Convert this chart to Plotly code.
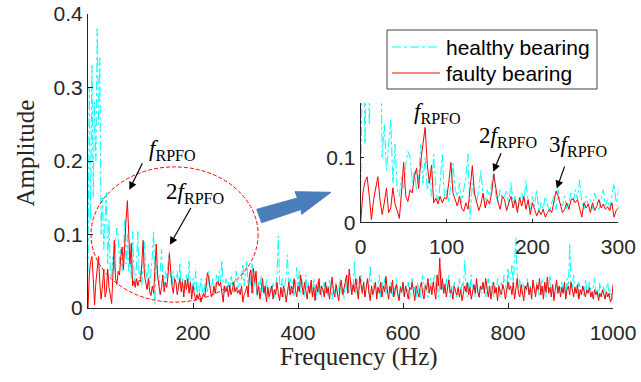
import numpy as np
import plotly.graph_objects as go

# ---------------- data ----------------
f_step = 2.5
freq = np.arange(0, 1000 + f_step / 2, f_step)

healthy = [
    # 0 - 47.5 Hz
    0.050, 0.300, 0.120, 0.330, 0.150, 0.280, 0.200, 0.380, 0.250, 0.340,
    0.100, 0.150, 0.080, 0.120, 0.157, 0.060, 0.120, 0.050, 0.040, 0.070,
    # 50 - 97.5
    0.050, 0.090, 0.109, 0.100, 0.060, 0.080, 0.050, 0.070, 0.120, 0.060,
    0.100, 0.050, 0.070, 0.040, 0.104, 0.050, 0.030, 0.060, 0.104, 0.040,
    # 100 - 147.5
    0.050, 0.030, 0.060, 0.090, 0.050, 0.040, 0.060, 0.030, 0.050, 0.070,
    0.105, 0.005, 0.060, 0.040, 0.030, 0.050, 0.080, 0.040, 0.030, 0.050,
    # 150 - 197.5
    0.040, 0.060, 0.077, 0.040, 0.030, 0.050, 0.035, 0.040, 0.050, 0.025,
    0.062, 0.030, 0.040, 0.020, 0.035, 0.045, 0.030, 0.064, 0.030, 0.020,
    # 200 - 247.5
    0.040, 0.025, 0.050, 0.015, 0.030, 0.020, 0.040, 0.025, 0.015, 0.030,
    0.040, 0.020, 0.050, 0.030, 0.025, 0.040, 0.020, 0.030, 0.045, 0.030,
    # 250 - 300
    0.050, 0.035, 0.065, 0.030, 0.020, 0.040, 0.025, 0.035, 0.020, 0.045,
    0.030, 0.020, 0.035, 0.050, 0.025, 0.035, 0.020, 0.040, 0.060, 0.030,
    0.045,
    # 302.5 - 350
    0.065, 0.025, 0.045, 0.030, 0.062, 0.020, 0.040, 0.030, 0.015, 0.035,
    0.025, 0.045, 0.020, 0.030, 0.015, 0.040, 0.025, 0.012, 0.030, 0.020,
    # 352.5 - 400
    0.035, 0.015, 0.030, 0.045, 0.098, 0.035, 0.025, 0.040, 0.015, 0.030,
    0.045, 0.072, 0.025, 0.040, 0.020, 0.035, 0.015, 0.030, 0.055, 0.025,
    # 402.5 - 450
    0.050, 0.020, 0.040, 0.030, 0.015, 0.045, 0.025, 0.035, 0.020, 0.030,
    0.015, 0.040, 0.025, 0.012, 0.035, 0.020, 0.030, 0.015, 0.025, 0.035,
    # 452.5 - 500
    0.020, 0.030, 0.015, 0.040, 0.025, 0.012, 0.030, 0.020, 0.035, 0.015,
    0.025, 0.040, 0.020, 0.030, 0.012, 0.035, 0.025, 0.045, 0.020, 0.030,
    # 502.5 - 550
    0.035, 0.025, 0.065, 0.020, 0.040, 0.015, 0.030, 0.045, 0.025, 0.035,
    0.015, 0.025, 0.040, 0.020, 0.058, 0.030, 0.015, 0.035, 0.025, 0.020,
    # 552.5 - 600
    0.030, 0.045, 0.015, 0.035, 0.025, 0.040, 0.020, 0.030, 0.012, 0.025,
    0.035, 0.015, 0.030, 0.020, 0.040, 0.025, 0.012, 0.030, 0.020, 0.035,
    # 602.5 - 650
    0.015, 0.030, 0.020, 0.035, 0.012, 0.025, 0.040, 0.020, 0.030, 0.015,
    0.035, 0.025, 0.012, 0.030, 0.045, 0.020, 0.035, 0.025, 0.015, 0.030,
    # 652.5 - 700
    0.040, 0.020, 0.030, 0.045, 0.025, 0.035, 0.015, 0.030, 0.050, 0.025,
    0.035, 0.020, 0.040, 0.025, 0.045, 0.015, 0.030, 0.020, 0.035, 0.025,
    # 702.5 - 750
    0.015, 0.030, 0.040, 0.020, 0.035, 0.025, 0.065, 0.030, 0.015, 0.035,
    0.025, 0.045, 0.020, 0.030, 0.015, 0.035, 0.025, 0.012, 0.030, 0.020,
    # 752.5 - 800
    0.035, 0.025, 0.015, 0.030, 0.040, 0.020, 0.025, 0.035, 0.015, 0.030,
    0.020, 0.040, 0.025, 0.015, 0.035, 0.025, 0.045, 0.030, 0.020, 0.055,
    # 802.5 - 850
    0.025, 0.040, 0.060, 0.035, 0.070, 0.095, 0.045, 0.025, 0.040, 0.020,
    0.035, 0.030, 0.015, 0.025, 0.040, 0.020, 0.030, 0.015, 0.035, 0.025,
    # 852.5 - 900
    0.020, 0.035, 0.025, 0.015, 0.030, 0.040, 0.020, 0.030, 0.015, 0.035,
    0.025, 0.045, 0.020, 0.030, 0.015, 0.025, 0.035, 0.020, 0.030, 0.025,
    # 902.5 - 950
    0.035, 0.020, 0.030, 0.015, 0.040, 0.025, 0.088, 0.035, 0.025, 0.045,
    0.020, 0.030, 0.015, 0.035, 0.025, 0.020, 0.030, 0.015, 0.040, 0.025,
    # 952.5 - 1000
    0.020, 0.035, 0.025, 0.015, 0.030, 0.040, 0.020, 0.025, 0.015, 0.035,
    0.025, 0.020, 0.030, 0.015, 0.025, 0.035, 0.020, 0.025, 0.015, 0.012,
]

faulty = [
    # 0 - 47.5 Hz
    0.000, 0.045, 0.063, 0.070, 0.040, 0.004, 0.035, 0.055, 0.070, 0.034,
    0.012, 0.030, 0.053, 0.015, 0.022, 0.053, 0.028, 0.018, 0.006, 0.045,
    # 50 - 97.5
    0.092, 0.040, 0.032, 0.050, 0.045, 0.070, 0.083, 0.052, 0.095, 0.120,
    0.146, 0.090, 0.060, 0.088, 0.030, 0.037, 0.028, 0.040, 0.030, 0.038,
    # 100 - 147.5
    0.036, 0.060, 0.092, 0.045, 0.035, 0.025, 0.040, 0.022, 0.017, 0.030,
    0.020, 0.050, 0.087, 0.045, 0.030, 0.018, 0.028, 0.045, 0.022, 0.035,
    # 150 - 197.5
    0.028, 0.045, 0.074, 0.050, 0.030, 0.020, 0.040, 0.035, 0.018, 0.030,
    0.040, 0.022, 0.035, 0.015, 0.038, 0.025, 0.040, 0.020, 0.035, 0.012,
    # 200 - 247.5
    0.030, 0.020, 0.010, 0.018, 0.012, 0.020, 0.008, 0.015, 0.020, 0.015,
    0.030, 0.048, 0.040, 0.025, 0.015, 0.020, 0.030, 0.020, 0.035, 0.036,
    # 250 - 300
    0.030, 0.035, 0.020, 0.008, 0.030, 0.022, 0.028, 0.015, 0.030, 0.018,
    0.025, 0.035, 0.022, 0.028, 0.020, 0.024, 0.018, 0.030, 0.008, 0.018,
    0.022,
    # 302.5 - 350
    0.030, 0.015, 0.045, 0.052, 0.020, 0.054, 0.035, 0.050, 0.018, 0.030,
    0.012, 0.025, 0.040, 0.020, 0.030, 0.008, 0.028, 0.015, 0.022, 0.030,
    # 352.5 - 400
    0.012, 0.025, 0.018, 0.035, 0.020, 0.010, 0.028, 0.015, 0.030, 0.022,
    0.008, 0.025, 0.035, 0.018, 0.030, 0.020, 0.040, 0.025, 0.015, 0.030,
    # 402.5 - 450
    0.022, 0.045, 0.030, 0.018, 0.035, 0.025, 0.012, 0.030, 0.020, 0.038,
    0.015, 0.028, 0.010, 0.032, 0.022, 0.040, 0.018, 0.030, 0.025, 0.015,
    # 452.5 - 500
    0.035, 0.020, 0.028, 0.012, 0.030, 0.042, 0.022, 0.015, 0.032, 0.020,
    0.010, 0.028, 0.038, 0.018, 0.025, 0.035, 0.045, 0.020, 0.053, 0.030,
    # 502.5 - 550
    0.018, 0.032, 0.022, 0.040, 0.025, 0.012, 0.043, 0.030, 0.020, 0.035,
    0.015, 0.028, 0.040, 0.022, 0.010, 0.030, 0.018, 0.025, 0.035, 0.012,
    # 552.5 - 600
    0.028, 0.020, 0.035, 0.015, 0.030, 0.022, 0.043, 0.025, 0.012, 0.030,
    0.020, 0.038, 0.015, 0.025, 0.032, 0.018, 0.010, 0.028, 0.022, 0.035,
    # 602.5 - 650
    0.015, 0.030, 0.020, 0.012, 0.028, 0.025, 0.035, 0.018, 0.010, 0.030,
    0.022, 0.015, 0.028, 0.035, 0.020, 0.012, 0.030, 0.025, 0.040, 0.020,
    # 652.5 - 700
    0.030, 0.018, 0.035, 0.025, 0.012, 0.045, 0.030, 0.068, 0.025, 0.040,
    0.020, 0.032, 0.015, 0.028, 0.038, 0.020, 0.025, 0.012, 0.030, 0.022,
    # 702.5 - 750
    0.018, 0.028, 0.015, 0.025, 0.010, 0.020, 0.030, 0.022, 0.035, 0.018,
    0.028, 0.012, 0.025, 0.032, 0.020, 0.040, 0.022, 0.015, 0.030, 0.025,
    # 752.5 - 800
    0.035, 0.020, 0.040, 0.028, 0.015, 0.030, 0.012, 0.025, 0.035, 0.020,
    0.028, 0.010, 0.030, 0.022, 0.018, 0.032, 0.025, 0.012, 0.028, 0.035,
    # 802.5 - 850
    0.025, 0.030, 0.018, 0.035, 0.012, 0.028, 0.040, 0.020, 0.015, 0.032,
    0.022, 0.010, 0.030, 0.025, 0.035, 0.018, 0.028, 0.012, 0.038, 0.022,
    # 852.5 - 900
    0.015, 0.032, 0.025, 0.040, 0.018, 0.030, 0.012, 0.035, 0.022, 0.042,
    0.020, 0.028, 0.015, 0.032, 0.010, 0.025, 0.038, 0.020, 0.030, 0.015,
    # 902.5 - 950
    0.028, 0.020, 0.035, 0.012, 0.025, 0.030, 0.018, 0.035, 0.022, 0.015,
    0.028, 0.020, 0.032, 0.012, 0.025, 0.018, 0.030, 0.022, 0.015, 0.025,
    # 952.5 - 1000
    0.020, 0.028, 0.015, 0.022, 0.012, 0.025, 0.018, 0.022, 0.010, 0.020,
    0.015, 0.025, 0.018, 0.012, 0.022, 0.015, 0.020, 0.008, 0.012, 0.032,
]

series_names = ["healthy bearing", "faulty bearing"]
main_xticks = [0, 200, 400, 600, 800, 1000]
main_yticks = [0, 0.1, 0.2, 0.3, 0.4]
inset_xticks = [0, 100, 200, 300]
inset_yticks = [0, 0.1]

# ---------------- figure ----------------
W, H = 641, 382


def px(x):
    return x / W


def py(y):
    return 1 - y / H


SANS = "Liberation Sans, Arial, sans-serif"
SERIF = "Liberation Serif, Times New Roman, serif"
AX = "#262626"
CYAN = "#00FFFF"
RED = "#FF0000"

fig = go.Figure()

cyan_line = dict(color=CYAN, width=1, dash="dashdot")
red_line = dict(color=RED, width=1)

fig.add_trace(go.Scatter(x=freq, y=healthy, mode="lines", line=cyan_line,
                         name=series_names[0], xaxis="x", yaxis="y"))
fig.add_trace(go.Scatter(x=freq, y=faulty, mode="lines", line=red_line,
                         name=series_names[1], xaxis="x", yaxis="y"))
fig.add_trace(go.Scatter(x=freq, y=healthy, mode="lines", line=cyan_line,
                         name=series_names[0], xaxis="x2", yaxis="y2"))
fig.add_trace(go.Scatter(x=freq, y=faulty, mode="lines", line=red_line,
                         name=series_names[1], xaxis="x2", yaxis="y2"))

axis_common = dict(showgrid=False, zeroline=False, showline=True,
                   linecolor=AX, linewidth=1, ticks="inside",
                   tickcolor=AX, tickwidth=1, automargin=False,
                   tickfont=dict(family=SANS, size=21, color=AX))

fig.update_layout(
    width=W, height=H,
    margin=dict(l=0, r=0, t=0, b=0, autoexpand=False),
    paper_bgcolor="white", plot_bgcolor="rgba(0,0,0,0)",
    showlegend=False,
    xaxis=dict(domain=[px(88), px(613)], range=[0, 1000], tickvals=main_xticks,
               ticklen=5, anchor="y", ticklabelstandoff=6, **axis_common),
    yaxis=dict(domain=[py(308), py(14)], range=[0, 0.4], tickvals=main_yticks,
               ticktext=[f"{v:g}" for v in main_yticks],
               ticklen=5, anchor="x", **axis_common),
    xaxis2=dict(domain=[px(360.7), px(618.3)], range=[0, 300], tickvals=inset_xticks,
                ticklen=3, anchor="y2", ticklabelstandoff=5, **axis_common),
    yaxis2=dict(domain=[py(222.3), py(103.3)], range=[0, 0.183], tickvals=inset_yticks,
                ticktext=[f"{v:g}" for v in inset_yticks],
                ticklen=3, anchor="x2", **axis_common),
)

# ellipse around low-frequency region
fig.add_shape(type="circle", xref="x", yref="y", x0=5.7, x1=324, y0=0.008, y1=0.192,
              line=dict(color=RED, width=1, dash="4px,2px"))

# blue block arrow
pts = [(256.7, 209.3), (297.5, 198.0), (295.0, 191.7), (331.0, 192.3),
       (301.7, 214.3), (301.0, 209.5), (261.7, 222.7)]
path = "M " + " L ".join(f"{px(x):.5f},{py(y):.5f}" for x, y in pts) + " Z"
fig.add_shape(type="path", xref="paper", yref="paper", path=path,
              fillcolor="#4A7EBB", line=dict(color="#4A7EBB", width=1))

# legend box (drawn by hand to match the MATLAB legend geometry)
fig.add_shape(type="rect", xref="paper", yref="paper",
              x0=px(387), x1=px(597), y0=py(89), y1=py(30),
              fillcolor="white", line=dict(color="#404040", width=1))
fig.add_shape(type="line", xref="paper", yref="paper",
              x0=px(392), x1=px(440), y0=py(47), y1=py(47),
              line=dict(color=CYAN, width=1, dash="dashdot"))
fig.add_shape(type="line", xref="paper", yref="paper",
              x0=px(392), x1=px(440), y0=py(73), y1=py(73),
              line=dict(color=RED, width=1))

ann_font = dict(family=SERIF, size=23, color="black")
F = "<i>f</i><sub>RPFO</sub>"
F2 = "2<i>f</i><sub>RPFO</sub>"
F3 = "3<i>f</i><sub>RPFO</sub>"

anns = []
# legend texts
for name, yy in zip(series_names, [47, 73]):
    anns.append(dict(text=name, xref="paper", yref="paper", x=px(444), y=py(yy),
                     xanchor="left", yanchor="middle", showarrow=False,
                     font=dict(family=SANS, size=21, color="black")))
# main plot labels
anns.append(dict(text=F, xref="x", yref="y", x=160, y=0.215, showarrow=False, font=ann_font))
anns.append(dict(text="", xref="x", yref="y", axref="x", ayref="y", x=78.7, y=0.161,
                 ax=105, ay=0.199, showarrow=True, arrowhead=2, arrowsize=1.3,
                 arrowwidth=1.2, arrowcolor="black"))
anns.append(dict(text=F2, xref="x", yref="y", x=203.8, y=0.157, showarrow=False, font=ann_font))
anns.append(dict(text="", xref="x", yref="y", axref="x", ayref="y", x=156, y=0.086,
                 ax=197.5, ay=0.138, showarrow=True, arrowhead=2, arrowsize=1.3,
                 arrowwidth=1.2, arrowcolor="black"))
# inset labels
anns.append(dict(text=F, xref="x2", yref="y2", x=90, y=0.168, showarrow=False, font=ann_font))
anns.append(dict(text=F2, xref="x2", yref="y2", x=171.5, y=0.131, showarrow=False, font=ann_font))
anns.append(dict(text="", xref="x2", yref="y2", axref="x2", ayref="y2", x=154.4, y=0.0778,
                 ax=164.2, ay=0.1086, showarrow=True, arrowhead=2, arrowsize=1.3,
                 arrowwidth=1.2, arrowcolor="black"))
anns.append(dict(text=F3, xref="x2", yref="y2", x=252.5, y=0.117, showarrow=False, font=ann_font))
anns.append(dict(text="", xref="x2", yref="y2", axref="x2", ayref="y2", x=228.3, y=0.052,
                 ax=238, ay=0.088, showarrow=True, arrowhead=2, arrowsize=1.3,
                 arrowwidth=1.2, arrowcolor="black"))
# axis titles
anns.append(dict(text="Frequency (Hz)", xref="paper", yref="paper", x=px(358.5), y=py(356.7),
                 xanchor="center", yanchor="middle", showarrow=False,
                 font=dict(family=SERIF, size=25, color=AX)))
anns.append(dict(text="Amplitude", xref="paper", yref="paper", x=px(25), y=py(153.5),
                 xanchor="center", yanchor="middle", textangle=-90, showarrow=False,
                 font=dict(family=SERIF, size=25, color=AX)))
fig.update_layout(annotations=anns)

fig.write_html("out.html")
